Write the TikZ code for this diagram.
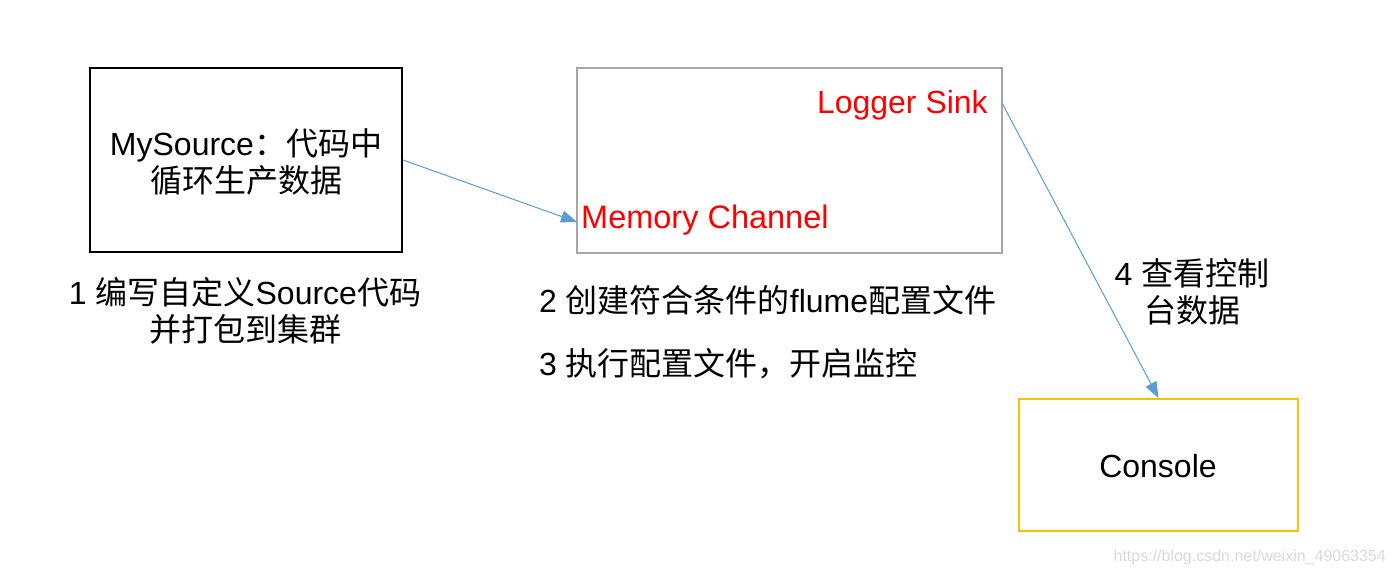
\documentclass[tikz,border=0pt]{standalone}
\usepackage{fontspec}
\setmainfont{Liberation Sans}
\newfontfamily\cjk{Noto Sans CJK SC}
\usetikzlibrary{arrows.meta}
\definecolor{arrowblue}{HTML}{5B9BD5}
\definecolor{boxgray}{HTML}{A6A6A6}
\definecolor{consolegold}{HTML}{FFC000}
\definecolor{wmgray}{HTML}{DADADA}
\begin{document}
\begin{tikzpicture}[x=1pt,y=-1pt,
  every node/.style={font=\fontsize{32}{37}\selectfont, inner sep=0pt},
  boxnode/.style={draw, line width=2pt, inner sep=0pt},
  conn/.style={draw=arrowblue, line width=1pt, -{Triangle[length=16pt,width=12pt]}},
  redlabel/.style={text=red},
  caption/.style={align=center}
]
\useasboundingbox (0,0) rectangle (1395,577);
\fill[white] (0,0) rectangle (1395,577);

% boxes
\node[boxnode, draw=black, minimum width=312pt, minimum height=184pt] (src) at (246,160) {};
\node[boxnode, draw=boxgray, minimum width=425pt, minimum height=185pt] (flume) at (789.5,160.5) {};
\node[boxnode, draw=consolegold, minimum width=279pt, minimum height=132pt] (console) at (1158.5,465) {};

% texts in boxes
\node[caption] (srctext) at (246,162) {MySource{\cjk ：代码中}\\{\cjk 循环生产数据}};
\node[redlabel, anchor=east] (sink) at (988,105) {Logger Sink};
\node[redlabel, anchor=west, font=\fontsize{32.5}{37}\selectfont] (channel) at (581,220) {Memory Channel};
\node (consoletext) at (1158,466) {Console};

% captions
\node[caption] (step1) at (245,311) {1 {\cjk 编写自定义}Source{\cjk 代码}\\{\cjk 并打包到集群}};
\node[anchor=west] (step2) at (539,300) {2 {\cjk 创建符合条件的}flume{\cjk 配置文件}};
\node[anchor=west] (step3) at (539,364) {3 {\cjk 执行配置文件，开启监控}};
\node[caption] (step4) at (1192,292) {4 {\cjk 查看控制}\\{\cjk 台数据}};

% connectors
\coordinate (chanin) at (577,222);
\coordinate (sinkout) at (1002,103);
\draw[conn] (src.east) -- (chanin);
\draw[conn] (sinkout) -- (console.north);

% watermark
\node[anchor=east, text=wmgray, font=\fontsize{16}{19}\selectfont] (wm) at (1386,557) {https://blog.csdn.net/weixin\_49063354};
\end{tikzpicture}
\end{document}
